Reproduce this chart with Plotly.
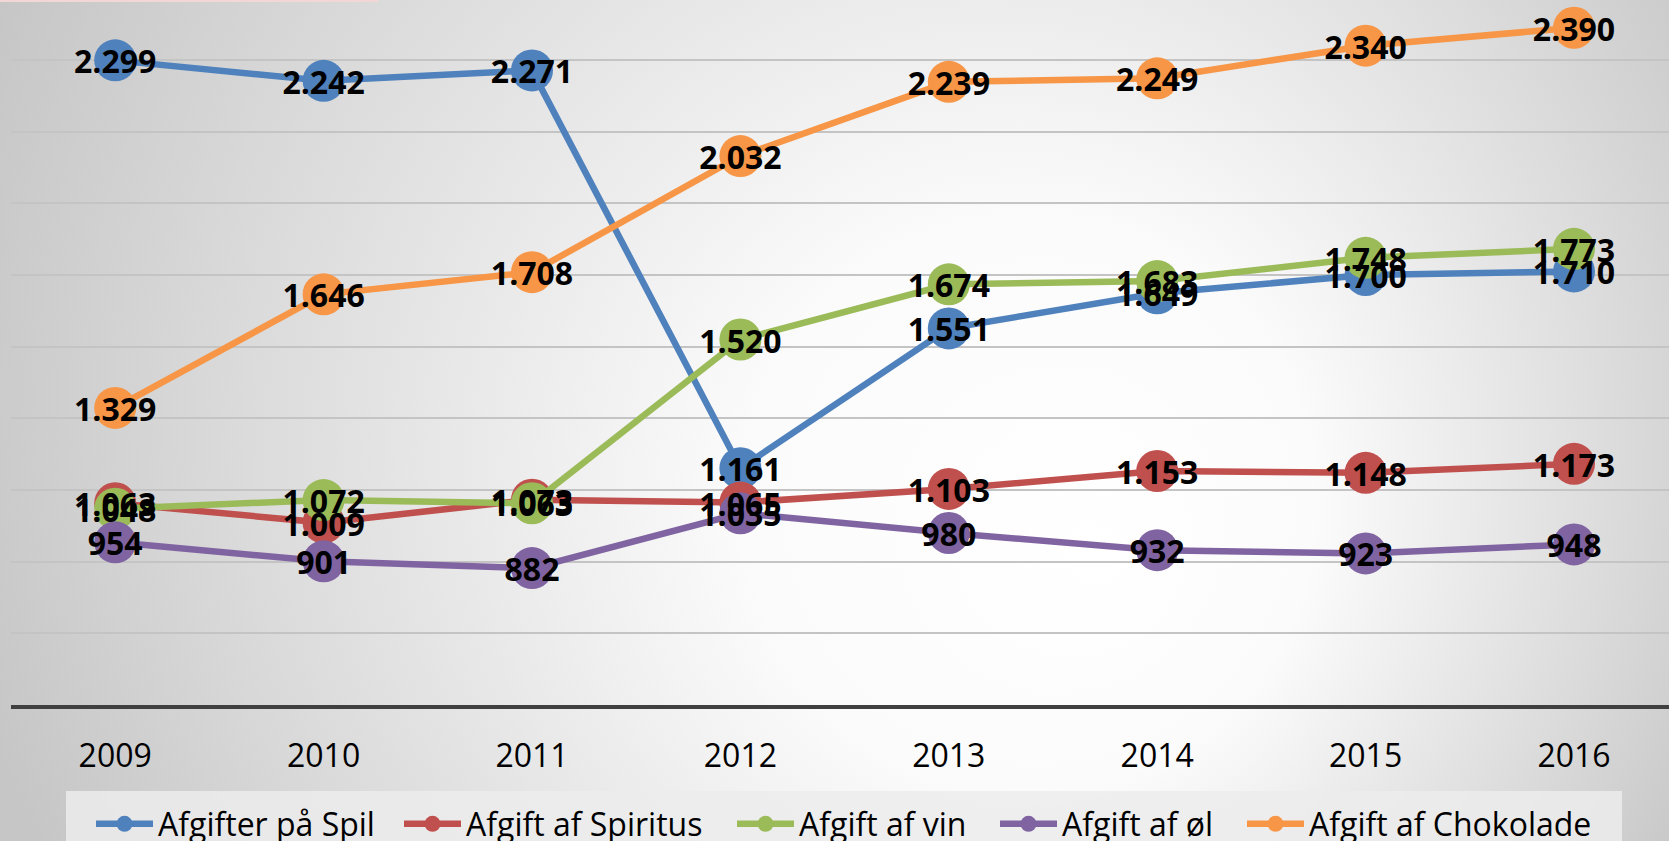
import base64
import plotly.graph_objects as go

years = ["2009", "2010", "2011", "2012", "2013", "2014", "2015", "2016"]
spil = [2299, 2242, 2271, 1161, 1551, 1649, 1700, 1710]
spiritus = [1063, 1009, 1073, 1065, 1103, 1153, 1148, 1173]
vin = [1048, 1072, 1063, 1520, 1674, 1683, 1748, 1773]
oel = [954, 901, 882, 1035, 980, 932, 923, 948]
chokolade = [1329, 1646, 1708, 2032, 2239, 2249, 2340, 2390]

series_names = ["Afgifter på Spil", "Afgift af Spiritus", "Afgift af vin", "Afgift af øl", "Afgift af Chokolade"]
series_values = [spil, spiritus, vin, oel, chokolade]
colors = ["#4F81BD", "#C0504D", "#9BBB59", "#8064A2", "#F79646"]

W, H = 1669, 841
L, R, T, B = 11, 0, 0, 136
PW, PH = W - L - R, H - T - B
STEP = 208.4
FONT = "Open Sans"
legend_x_px = [91, 399, 732, 995, 1242]
Y0 = 500
UPP = 1800 / 645          # value units per pixel
LABEL_DROP_PX = 5         # labels sit this many px lower than the raw text centring


def fmt(v):
    return f"{v:,}".replace(",", ".")


def px_x(x):
    return (x - L) / PW


def px_y(y):
    return (T + PH - y) / PH


fig = go.Figure()
for i, (name, vals, col) in enumerate(zip(series_names, series_values, colors)):
    fig.add_trace(go.Scatter(
        x=years, y=vals, name=name, mode="lines+markers",
        line=dict(color=col, width=6.5),
        marker=dict(color=col, size=42, line=dict(width=0)),
        hoverinfo="skip",
        legend="legend" if i == 0 else f"legend{i + 1}",
    ))
for name, vals, col in zip(series_names, series_values, colors):
    fig.add_trace(go.Scatter(
        x=years, y=vals, mode="text", showlegend=False, yaxis="y2",
        text=[fmt(v) for v in vals], textposition="middle center",
        textfont=dict(family=FONT, size=32, color="#000000", weight="bold"),
        hoverinfo="skip",
    ))

svg = (
    f"<svg xmlns='http://www.w3.org/2000/svg' width='{W}' height='{H}' viewBox='0 0 {W} {H}' preserveAspectRatio='none'>"
    "<defs><radialGradient id='g' gradientUnits='userSpaceOnUse' cx='870' cy='380' r='950' fx='1100' fy='560'>"
    "<stop offset='0' stop-color='#ffffff'/><stop offset='0.3' stop-color='#fbfbfb'/>"
    "<stop offset='1' stop-color='#c6c6c6'/></radialGradient></defs>"
    f"<rect width='{W}' height='{H}' fill='url(#g)'/></svg>"
)
src = "data:image/svg+xml;base64," + base64.b64encode(svg.encode()).decode()

legend_common = dict(orientation="h", y=px_y(824), xanchor="left", yanchor="middle",
                     bgcolor="rgba(0,0,0,0)", borderwidth=0, itemwidth=57,
                     font=dict(family=FONT, size=32, color="#000000"),
                     itemclick=False, itemdoubleclick=False)
legends = {}
for i, lx in enumerate(legend_x_px):
    key = "legend" if i == 0 else f"legend{i + 1}"
    legends[key] = dict(x=px_x(lx), **legend_common)

y_range = [Y0, Y0 + PH * UPP]
shift = LABEL_DROP_PX * UPP

fig.update_layout(
    width=W, height=H,
    margin=dict(l=L, r=R, t=T, b=B, pad=0, autoexpand=False),
    paper_bgcolor="#d0d0d0",
    plot_bgcolor="rgba(0,0,0,0)",
    font=dict(family=FONT, color="#000000"),
    showlegend=True,
    hovermode=False,
    images=[dict(source=src, xref="paper", yref="paper", x=px_x(0), y=px_y(0),
                 sizex=W / PW, sizey=H / PH, xanchor="left", yanchor="top",
                 sizing="stretch", layer="below")],
    shapes=[
        dict(type="rect", xref="paper", yref="paper", x0=px_x(66), x1=px_x(1622),
             y0=px_y(791), y1=px_y(860), fillcolor="rgba(236,236,236,0.85)",
             line=dict(width=0), layer="below"),
        dict(type="rect", xref="paper", yref="paper", x0=px_x(0), x1=px_x(378),
             y0=px_y(0), y1=px_y(2), fillcolor="#f3d6d6",
             line=dict(width=0), layer="below"),
    ],
    yaxis2=dict(overlaying="y", range=[y_range[0] + shift, y_range[1] + shift],
                showticklabels=False, showgrid=False, zeroline=False, showline=False,
                automargin=False, fixedrange=True),
    **legends,
)
fig.update_xaxes(
    type="category", categoryorder="array", categoryarray=years,
    range=[-0.5, -0.5 + PW / STEP], showgrid=False, zeroline=False,
    showline=True, linecolor="#404040", linewidth=4,
    ticks="", ticklabelstandoff=20,
    tickfont=dict(family=FONT, size=32, color="#000000"),
    automargin=False, fixedrange=True,
)
fig.update_yaxes(
    selector=dict(overlaying=None),
    range=y_range, tick0=Y0, dtick=200,
    showticklabels=False, showgrid=True, gridcolor="#c4c4c4", gridwidth=1.5,
    zeroline=False, showline=False, automargin=False, fixedrange=True,
)
fig.update_layout(yaxis2=dict(range=[y_range[0] + shift, y_range[1] + shift], showgrid=False))

fig.write_html(
    "out.html",
    config={"displayModeBar": False},
    post_script="document.body.style.margin='0';document.body.style.overflow='hidden';",
)
